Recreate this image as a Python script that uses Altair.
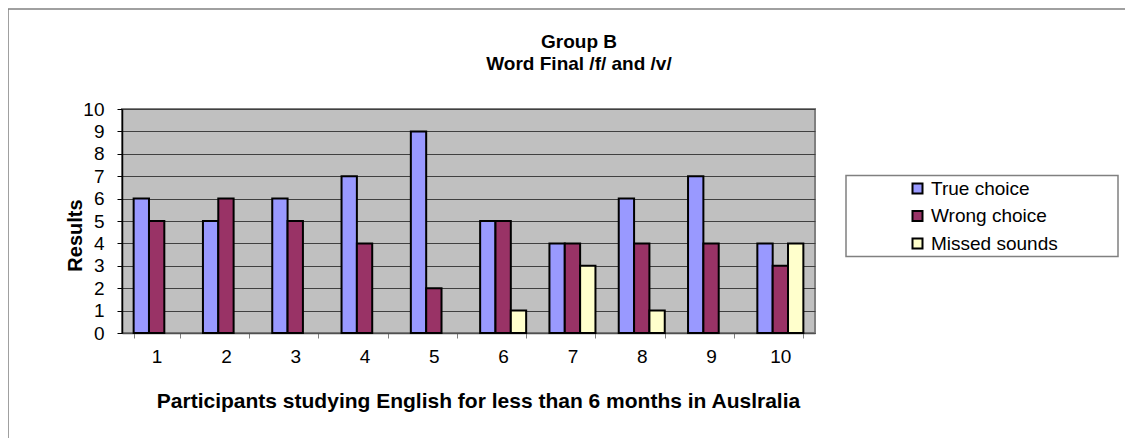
import altair as alt
import pandas as pd

participants = [str(i) for i in range(1, 11)]
true_choice = [6, 5, 6, 7, 9, 5, 4, 6, 7, 4]
wrong_choice = [5, 6, 5, 4, 2, 5, 4, 4, 4, 3]
missed_sounds = [0, 0, 0, 0, 0, 1, 3, 1, 0, 4]
series_names = ["True choice", "Wrong choice", "Missed sounds"]
series_colors = ["#9999FF", "#993366", "#FFFFCC"]
y_ticks = list(range(0, 11))
title_lines = ["Group B", "Word Final /f/ and /v/"]
x_title = "Participants studying English for less than 6 months in Auslralia"
y_title = "Results"

rows = []
for i, p in enumerate(participants):
    for name, vals in zip(series_names, [true_choice, wrong_choice, missed_sounds]):
        rows.append({"participant": p, "series": name, "value": vals[i]})
df = pd.DataFrame(rows)

FONT = "Liberation Sans"
W, H = 693, 224

bars = alt.Chart(df).transform_filter("datum.value > 0").mark_bar(
    stroke="black", strokeWidth=2
).encode(
    x=alt.X("participant:N", sort=participants,
            scale=alt.Scale(paddingInner=0.336, paddingOuter=0.168),
            axis=alt.Axis(title=x_title,
                          labelAngle=0, tickBand="extent", grid=False,
                          domainColor="#505050", domainWidth=1.5,
                          tickColor="#808080", tickSize=5, tickWidth=1,
                          labelFontSize=19, labelPadding=9, labelColor="black",
                          titleFontSize=21, titleFontWeight="bold", titleColor="black",
                          titleX=356, titleY=74, titleAlign="center",
                          titleBaseline="alphabetic")),
    xOffset=alt.XOffset("series:N", sort=series_names,
                        scale=alt.Scale(paddingInner=0, paddingOuter=0)),
    y=alt.Y("value:Q", scale=alt.Scale(domain=[0, 10], nice=False),
            axis=alt.Axis(title=y_title, values=y_ticks, grid=True,
                          gridColor="#404040", gridWidth=1,
                          domainColor="black", domainWidth=1.5,
                          tickColor="black", tickSize=5, tickWidth=1,
                          labelFontSize=19, labelPadding=13, labelColor="black",
                          titleFontSize=20, titleFontWeight="bold", titleColor="black",
                          titleX=-41, titleY=126, titleAngle=270,
                          titleAlign="center", titleBaseline="alphabetic")),
    color=alt.Color("series:N", sort=series_names,
                    scale=alt.Scale(domain=series_names, range=series_colors),
                    legend=alt.Legend(title=None, orient="none", legendX=786, legendY=70,
                                      symbolType="square", symbolSize=100,
                                      symbolStrokeColor="black", symbolStrokeWidth=2,
                                      labelFontSize=19, labelColor="black", labelOffset=4,
                                      rowPadding=7.5, padding=0)),
)

one = pd.DataFrame({"k": [0]})
legend_box = alt.Chart(one).mark_rect(fill="white", stroke="#808080", strokeWidth=1.5).encode(
    x=alt.value(724), x2=alt.value(996), y=alt.value(66.5), y2=alt.value(147.5)
)
frame_top = alt.Chart(one).mark_rule(color="#808080", strokeWidth=1.5).encode(
    x=alt.value(-114), x2=alt.value(1011), y=alt.value(-100), y2=alt.value(-100)
)
frame_left = alt.Chart(one).mark_rule(color="#808080", strokeWidth=1.5).encode(
    x=alt.value(-114), x2=alt.value(-114), y=alt.value(-100), y2=alt.value(H + 110)
)
title1 = alt.Chart(one).mark_text(
    font=FONT, fontSize=19, fontWeight="bold", color="black", align="center", baseline="alphabetic"
).encode(x=alt.value(457), y=alt.value(-61.5), text=alt.value(title_lines[0]))
title2 = alt.Chart(one).mark_text(
    font=FONT, fontSize=19, fontWeight="bold", color="black", align="center", baseline="alphabetic"
).encode(x=alt.value(457), y=alt.value(-39.5), text=alt.value(title_lines[1]))

chart = alt.layer(legend_box, frame_top, frame_left, title1, title2, bars).properties(
    width=W, height=H,
    autosize=alt.AutoSizeParams(type="none"),
    padding={"left": 114, "top": 101, "right": 310, "bottom": 105},
).configure(
    font=FONT,
).configure_view(
    fill="#C0C0C0", stroke="#808080", strokeWidth=2
).configure_axis(
    labelFont=FONT, titleFont=FONT
).configure_legend(
    labelFont=FONT
)

chart.save("out.html", embed_options={"renderer": "svg", "actions": False})
